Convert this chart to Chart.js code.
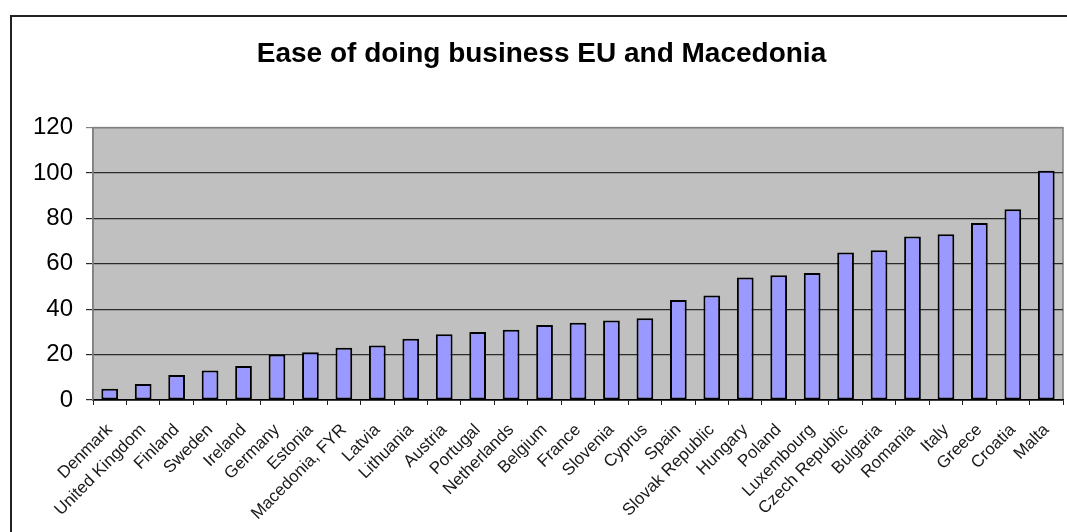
<!DOCTYPE html>
<html>
<head>
<meta charset="utf-8">
<title>Ease of doing business EU and Macedonia</title>
<script src="https://cdn.jsdelivr.net/npm/chart.js@4.4.1/dist/chart.umd.min.js"></script>
<style>
  html, body { margin: 0; padding: 0; background: #fff; overflow: hidden; }
  #frame {
    position: absolute; left: 10px; top: 15px; width: 1200px; height: 700px;
    border-top: 2px solid #222; border-left: 2px solid #222; box-sizing: border-box;
  }
  #wrap { position: absolute; left: 0; top: 0; width: 1090px; height: 532px; }
</style>
</head>
<body>
<div id="frame"></div>
<div id="wrap"><canvas id="chart" width="1090" height="532"></canvas></div>
<script>
// Countries ordered by ease-of-doing-business rank
const countries = [
  'Denmark', 'United Kingdom', 'Finland', 'Sweden', 'Ireland', 'Germany', 'Estonia',
  'Macedonia, FYR', 'Latvia', 'Lithuania', 'Austria', 'Portugal', 'Netherlands',
  'Belgium', 'France', 'Slovenia', 'Cyprus', 'Spain', 'Slovak Republic', 'Hungary',
  'Poland', 'Luxembourg', 'Czech Republic', 'Bulgaria', 'Romania', 'Italy', 'Greece',
  'Croatia', 'Malta'
];
const ranks = [
  5, 7, 11, 13, 15, 20, 21,
  23, 24, 27, 29, 30, 31,
  33, 34, 35, 36, 44, 46, 54,
  55, 56, 65, 66, 72, 73, 78,
  84, 101
];
const yTicks = [0, 20, 40, 60, 80, 100, 120];

// Grey plot background behind the bars
const plotBackground = {
  id: 'plotBackground',
  beforeDraw(chart) {
    const { ctx, chartArea: a } = chart;
    ctx.save();
    ctx.fillStyle = '#c0c0c0';
    ctx.fillRect(a.left, a.top, a.right - a.left, a.bottom - a.top);
    ctx.strokeStyle = '#808080';
    ctx.lineWidth = 1.5;
    ctx.strokeRect(a.left, a.top, a.right - a.left, a.bottom - a.top);
    ctx.restore();
  }
};

new Chart(document.getElementById('chart'), {
  type: 'bar',
  data: {
    labels: countries,
    datasets: [{
      data: ranks,
      backgroundColor: '#9999ff',
      borderColor: '#000000',
      borderWidth: 2,
      borderSkipped: false,
      barPercentage: 0.5,
      categoryPercentage: 1.0
    }]
  },
  options: {
    responsive: false,
    animation: false,
    layout: { padding: { left: 20, right: 27, top: 37, bottom: 0 } },
    plugins: {
      legend: { display: false },
      tooltip: { enabled: false },
      title: {
        display: true,
        text: 'Ease of doing business EU and Macedonia',
        color: '#000',
        font: { family: '"Liberation Sans", Arial, sans-serif', size: 28, weight: 'bold' },
        padding: { top: 0, bottom: 57 }
      }
    },
    scales: {
      x: {
        grid: {
          drawOnChartArea: false,
          offset: true,
          tickLength: 5,
          color: '#222'
        },
        border: { color: '#000', width: 1.5 },
        ticks: {
          autoSkip: false,
          minRotation: 45,
          maxRotation: 45,
          padding: 15,
          color: '#1a1a1a',
          font: { family: '"Liberation Sans", Arial, sans-serif', size: 17 }
        },
        afterFit(scale) { scale.height = 132; }
      },
      y: {
        min: 0,
        max: 120,
        afterBuildTicks(scale) { scale.ticks = yTicks.map(v => ({ value: v })); },
        grid: {
          tickLength: 7,
          lineWidth: 1.2,
          color: ctx => ctx.tick && ctx.tick.value === 120 ? '#808080' : '#2a2a2a'
        },
        border: { color: '#808080', width: 1.5 },
        ticks: {
          padding: 13,
          color: '#000',
          font: { family: '"Liberation Sans", Arial, sans-serif', size: 24 }
        },
        afterFit(scale) { scale.width = 73; }
      }
    }
  },
  plugins: [plotBackground]
});
</script>
</body>
</html>
